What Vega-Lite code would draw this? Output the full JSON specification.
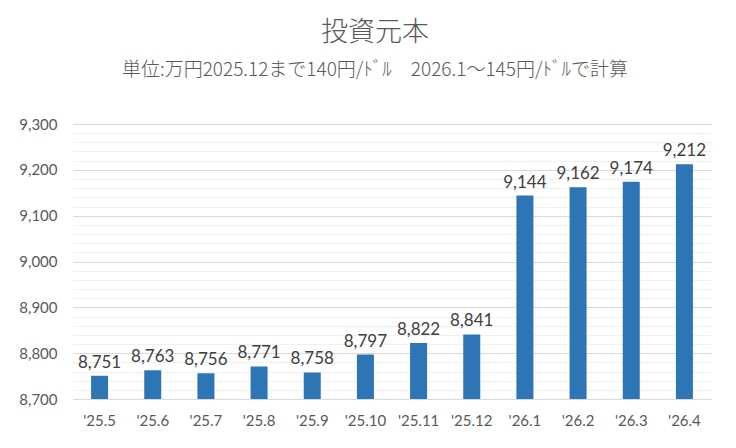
{
  "$schema": "https://vega.github.io/schema/vega-lite/v6.json",
  "width": 638,
  "height": 275,
  "padding": {"left": 18, "top": 19, "right": 10, "bottom": 6},
  "background": "white",
  "title": {
    "text": "投資元本",
    "subtitle": "単位:万円2025.12まで140円/ﾄﾞﾙ　2026.1～145円/ﾄﾞﾙで計算",
    "font": "Noto Sans CJK JP",
    "subtitleFont": "Noto Sans CJK JP",
    "fontSize": 27,
    "fontWeight": 300,
    "color": "#595959",
    "subtitleFontSize": 19,
    "subtitleFontWeight": 300,
    "subtitleColor": "#595959",
    "subtitlePadding": 14,
    "offset": 36,
    "anchor": "middle",
    "frame": "bounds",
    "dx": 10
  },
  "data": {
    "values": [
      {"month": "'25.5", "value": 8751},
      {"month": "'25.6", "value": 8763},
      {"month": "'25.7", "value": 8756},
      {"month": "'25.8", "value": 8771},
      {"month": "'25.9", "value": 8758},
      {"month": "'25.10", "value": 8797},
      {"month": "'25.11", "value": 8822},
      {"month": "'25.12", "value": 8841},
      {"month": "'26.1", "value": 9144},
      {"month": "'26.2", "value": 9162},
      {"month": "'26.3", "value": 9174},
      {"month": "'26.4", "value": 9212}
    ]
  },
  "encoding": {
    "x": {
      "field": "month",
      "type": "nominal",
      "sort": null,
      "title": null,
      "scale": {"paddingInner": 0.68, "paddingOuter": 0.34},
      "axis": {
        "labelAngle": 0,
        "labelFont": "Lato",
        "labelFontSize": 15,
        "labelColor": "#595959",
        "labelPadding": 14,
        "ticks": false,
        "domain": false
      }
    },
    "y": {
      "field": "value",
      "type": "quantitative",
      "title": null,
      "scale": {"domain": [8700, 9300], "nice": false, "zero": false},
      "axis": {
        "values": [8700, 8720, 8740, 8760, 8780, 8800, 8820, 8840, 8860, 8880, 8900, 8920, 8940, 8960, 8980, 9000, 9020, 9040, 9060, 9080, 9100, 9120, 9140, 9160, 9180, 9200, 9220, 9240, 9260, 9280, 9300],
        "labelExpr": "datum.value % 100 === 0 ? format(datum.value, ',') : ''",
        "gridColor": {"condition": {"test": "datum.value % 100 === 0", "value": "#d9d9d9"}, "value": "#f0f0f0"},
        "gridWidth": 1,
        "labelFont": "Lato",
        "labelFontSize": 15,
        "labelColor": "#595959",
        "labelPadding": 16,
        "ticks": false,
        "domain": false
      }
    }
  },
  "layer": [
    {"mark": {"type": "bar", "color": "#2E75B6", "clip": true}},
    {
      "mark": {"type": "text", "dy": -13, "font": "Lato", "fontSize": 17, "color": "#404040"},
      "encoding": {"text": {"field": "value", "type": "quantitative", "format": ","}}
    }
  ],
  "config": {"view": {"stroke": null}}
}
